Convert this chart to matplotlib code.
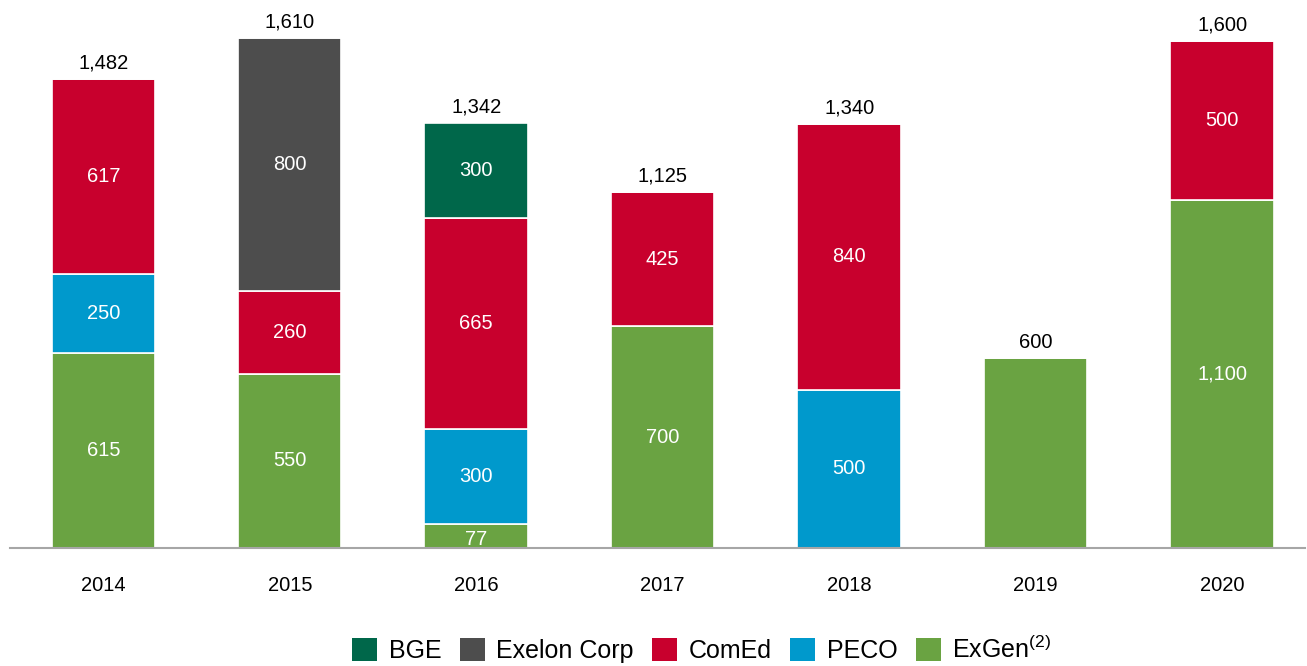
import matplotlib
matplotlib.use("Agg")
import matplotlib.pyplot as plt
from matplotlib.patches import Patch
import numpy as np

plt.rcParams['font.family'] = ['Liberation Sans', 'DejaVu Sans']
plt.rcParams['mathtext.fontset'] = 'custom'
plt.rcParams['mathtext.rm'] = 'Liberation Sans'
plt.rcParams['mathtext.it'] = 'Liberation Sans'

years = ["2014", "2015", "2016", "2017", "2018", "2019", "2020"]
exgen = [615, 550, 77, 700, 0, 600, 1100]
peco = [250, 0, 300, 0, 500, 0, 0]
comed = [617, 260, 665, 425, 840, 0, 500]
exelon = [0, 800, 0, 0, 0, 0, 0]
bge = [0, 0, 300, 0, 0, 0, 0]
totals = [1482, 1610, 1342, 1125, 1340, 600, 1600]

series = [
    ("ExGen$^{(2)}$", exgen, "#6aa342"),
    ("PECO", peco, "#0099cc"),
    ("ComEd", comed, "#c8002d"),
    ("Exelon Corp", exelon, "#4d4d4d"),
    ("BGE", bge, "#00674a"),
]

fig = plt.figure(figsize=(13.07, 6.66), dpi=100)
ax = fig.add_axes([0.0077, 0.177, 0.9908, 0.8087])
x = np.arange(len(years))
width = 0.555
bottom = np.zeros(len(years))
for name, vals, color in series:
    vals = np.array(vals, dtype=float)
    ax.bar(x, vals, width, bottom=bottom, color=color, edgecolor="white", linewidth=1.2)
    for i, v in enumerate(vals):
        if v > 0 and years[i] != "2019":
            yy = bottom[i] + v / 2
            if v < 100:
                yy -= 12
            ax.text(x[i], yy, f"{int(v):,}", ha="center", va="center",
                    color="white", fontsize=14.5)
    bottom += vals

for i, t in enumerate(totals):
    ax.text(x[i], t + 20, f"{t:,}", ha="center", va="bottom", color="black", fontsize=14.5)

ax.set_xlim(-0.5, 6.445)
ax.set_ylim(0, 1700)
ax.set_xticks(x)
ax.set_xticklabels(years, fontsize=14.5)
ax.tick_params(axis="x", length=0, pad=20)
ax.set_yticks([])
for s in ["top", "right", "left"]:
    ax.spines[s].set_visible(False)
ax.spines["bottom"].set_color("#a6a6a6")
ax.spines["bottom"].set_linewidth(1.5)

order = [4, 3, 2, 1, 0]
handles = [Patch(facecolor=series[k][2], edgecolor="none") for k in order]
labels = [series[k][0] for k in order]
fig.legend(handles, labels, loc="center", bbox_to_anchor=(0.537, 0.025), ncol=5,
           frameon=False, fontsize=18, handlelength=1.0, handleheight=1.0,
           handletextpad=0.45, columnspacing=0.75)

fig.savefig("out.png", dpi=100)
